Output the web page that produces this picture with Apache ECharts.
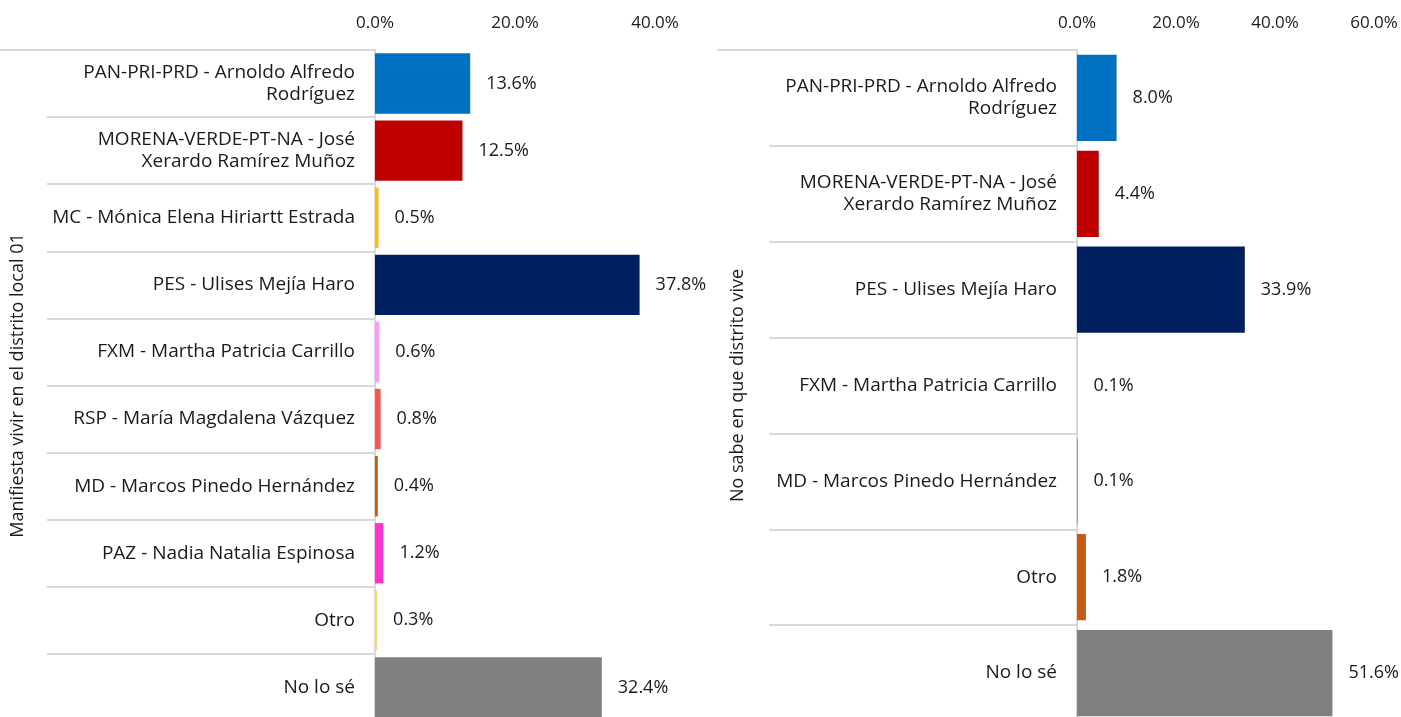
<!DOCTYPE html>
<html>
<head>
<meta charset="utf-8">
<script src="https://cdn.jsdelivr.net/npm/echarts@6/dist/echarts.min.js"></script>
<style>
html,body{margin:0;padding:0;background:#fff;}
#chart{width:1401px;height:717px;}
</style>
</head>
<body>
<div id="chart"></div>
<script>
// panel izquierdo: manifiesta vivir en el distrito
var leftGroup = ['Manifiesta vivir en el distrito local 01'];
var leftCats = [
  'PAN-PRI-PRD - Arnoldo Alfredo\nRodríguez',
  'MORENA-VERDE-PT-NA - José\nXerardo Ramírez Muñoz',
  'MC - Mónica Elena Hiriartt Estrada',
  'PES - Ulises Mejía Haro',
  'FXM - Martha Patricia Carrillo',
  'RSP - María Magdalena Vázquez',
  'MD - Marcos Pinedo Hernández',
  'PAZ - Nadia Natalia Espinosa',
  'Otro',
  'No lo sé'
];
var leftValues = [13.6, 12.5, 0.5, 37.8, 0.6, 0.8, 0.4, 1.2, 0.3, 32.4];
var leftColors = ['#0070C0', '#C00000', '#FFC000', '#002060', '#FF99FF', '#FF5050', '#C55A11', '#FF33CC', '#FFD966', '#808080'];

// panel derecho: no sabe en que distrito vive
var rightGroup = ['No sabe en que distrito vive'];
var rightCats = [
  'PAN-PRI-PRD - Arnoldo Alfredo\nRodríguez',
  'MORENA-VERDE-PT-NA - José\nXerardo Ramírez Muñoz',
  'PES - Ulises Mejía Haro',
  'FXM - Martha Patricia Carrillo',
  'MD - Marcos Pinedo Hernández',
  'Otro',
  'No lo sé'
];
var rightValues = [8.0, 4.4, 33.9, 0.1, 0.1, 1.8, 51.6];
var rightColors = ['#0070C0', '#C00000', '#002060', '#FF99FF', '#C55A11', '#C55A11', '#808080'];

var FONT = '"Open Sans", Lato, sans-serif';
var TXT = '#1a1a1a';
var GRIS = '#D9D9D9';

function pct(v){ return v.toFixed(1) + '%'; }

function xAxisFor(idx, max){
  return {
    type: 'value', gridIndex: idx, position: 'top', min: 0, max: max, interval: 20,
    axisLine: {show: false}, axisTick: {show: false}, splitLine: {show: false},
    axisLabel: {formatter: pct, fontFamily: FONT, fontSize: 17, color: TXT, margin: 18}
  };
}

function innerAxis(idx, cats, tickLen){
  return {
    type: 'category', gridIndex: idx, data: cats, inverse: true, position: 'left',
    axisLine: {show: true, lineStyle: {color: GRIS, width: 2}},
    axisTick: {show: true, length: tickLen, lineStyle: {color: GRIS, width: 2}},
    axisLabel: {fontFamily: FONT, fontSize: 19, color: TXT, margin: 20, lineHeight: 22, align: 'right'}
  };
}

// eje exterior: la etiqueta de grupo vertical y las rayas largas de arriba/abajo
function outerAxis(idx, group, tickLen, labelMargin){
  return {
    type: 'category', gridIndex: idx, data: group, inverse: true, position: 'left', offset: 0,
    axisLine: {show: false},
    axisTick: {show: true, length: tickLen, lineStyle: {color: GRIS, width: 2}},
    axisLabel: {rotate: 90, fontFamily: FONT, fontSize: 18, color: TXT, margin: labelMargin}
  };
}

function barSeries(idx, values, colors){
  return {
    type: 'bar', xAxisIndex: idx, yAxisIndex: idx * 2, barCategoryGap: '10%',
    data: values.map(function(v, i){ return {value: v, itemStyle: {color: colors[i]}}; }),
    label: {show: true, position: 'right', distance: 16, formatter: function(p){ return pct(p.value); },
      fontFamily: FONT, fontSize: 18, color: TXT},
    animation: false
  };
}

var myChart = echarts.init(document.getElementById('chart'));
myChart.setOption({
  backgroundColor: '#fff',
  grid: [
    {left: 375, top: 50, width: 280, height: 671, outerBoundsMode: 'none'},
    {left: 1077, top: 50, width: 297, height: 671, outerBoundsMode: 'none'}
  ],
  xAxis: [xAxisFor(0, 40), xAxisFor(1, 60)],
  yAxis: [
    innerAxis(0, leftCats, 328),
    outerAxis(0, leftGroup, 375, 348),
    innerAxis(1, rightCats, 308),
    outerAxis(1, rightGroup, 360, 330)
  ],
  series: [
    barSeries(0, leftValues, leftColors),
    barSeries(1, rightValues, rightColors)
  ]
});
</script>
</body>
</html>
